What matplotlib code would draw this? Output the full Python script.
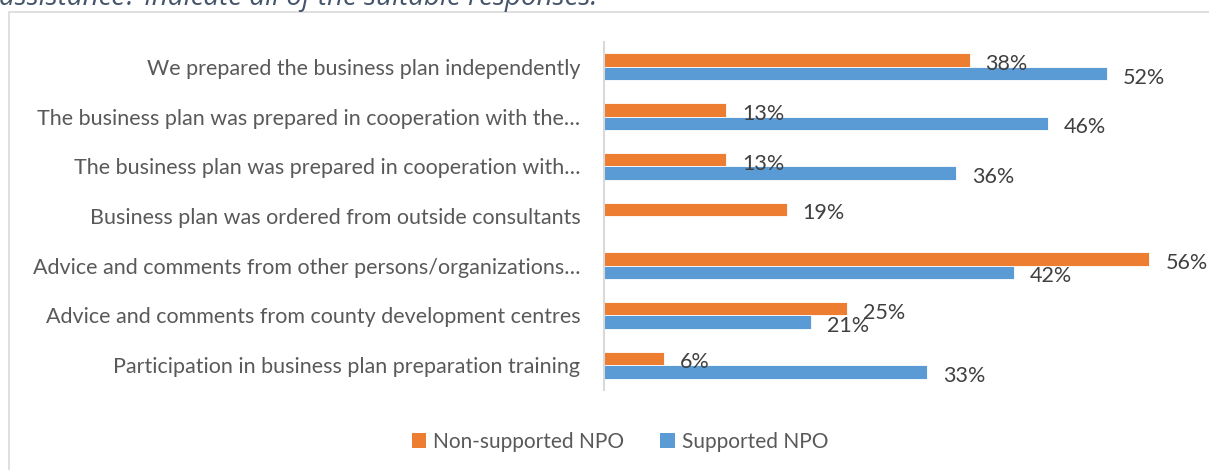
import matplotlib
matplotlib.use("Agg")
import matplotlib.pyplot as plt
from matplotlib.patches import Rectangle, Patch
import numpy as np

categories = [
    "We prepared the business plan independently",
    "The business plan was prepared in cooperation with the\u2026",
    "The business plan was prepared in cooperation with\u2026",
    "Business plan was ordered from outside consultants",
    "Advice and comments from other persons/organizations\u2026",
    "Advice and comments from county development centres",
    "Participation in business plan preparation training",
]
non_supported = [37.8, 12.6, 12.6, 18.9, 56.4, 25.1, 6.2]
supported = [52.0, 45.9, 36.4, None, 42.4, 21.4, 33.4]
series_names = ["Non-supported NPO", "Supported NPO"]
title_text = "assistance? Indicate all of the suitable responses."

W, H = 1209, 470
fig = plt.figure(figsize=(W / 100, H / 100), dpi=100)
fig.patch.set_facecolor("white")

FONT = "Lato"

def px(x0, y0, x1, y1):
    return [x0 / W, 1 - y1 / H, (x1 - x0) / W, (y1 - y0) / H]

# chart border
fig.patches.append(Rectangle((9 / W, -0.1), 1.2, 1 - 12 / H + 0.1, transform=fig.transFigure,
                             facecolor="none", edgecolor="#D9D9D9", linewidth=1.2))

# cut-off title
fig.text(-1 / W, 1 - 4.5 / H, title_text, fontsize=20, style="italic", family="Open Sans",
         color="#44546A", va="baseline", ha="left")

ax = fig.add_axes(px(604, 42, 1200, 390))
ax.set_facecolor("none")
n = len(categories)
y = np.arange(n)[::-1]
bh = 0.27
orange = "#ED7D31"
blue = "#5B9BD5"
sup_vals = [v if v is not None else 0 for v in supported]
ax.barh(y + bh / 2, non_supported, height=bh, color=orange, edgecolor="white", linewidth=0.6)
ax.barh(y - bh / 2, sup_vals, height=bh, color=blue, edgecolor="white", linewidth=0.6)

xmax = (1200 - 604) / 9.67
ax.set_xlim(0, xmax)
ax.set_ylim(-0.5, n - 0.5)

lab_font = dict(family=FONT, fontsize=15.5, color="#404040")
off = 16 / 9.67
for yi, v in zip(y, non_supported):
    ax.text(v + off, yi + bh / 2 - 0.08, f"{v:.0f}%", va="center", ha="left", clip_on=False, **lab_font)
for yi, v in zip(y, supported):
    if v is None:
        continue
    ax.text(v + off, yi - bh / 2 - 0.08, f"{v:.0f}%", va="center", ha="left", clip_on=False, **lab_font)

ax.set_yticks(y)
ax.set_yticklabels(categories, family=FONT, fontsize=15.5, color="#595959")
ax.tick_params(axis="y", length=0, pad=17)
ax.set_xticks([])
for s in ["top", "right", "bottom"]:
    ax.spines[s].set_visible(False)
ax.spines["left"].set_color("#D9D9D9")
ax.spines["left"].set_linewidth(1.5)

handles = [Patch(facecolor=orange), Patch(facecolor=blue)]
fig.legend(handles, series_names, loc="center", bbox_to_anchor=(620 / W, 1 - 442 / H), ncol=2,
           frameon=False, prop=dict(family=FONT, size=15), labelcolor="#595959",
           handlelength=0.7, handleheight=0.7, handletextpad=0.35, columnspacing=1.7)

fig.savefig("out.png", dpi=100)
